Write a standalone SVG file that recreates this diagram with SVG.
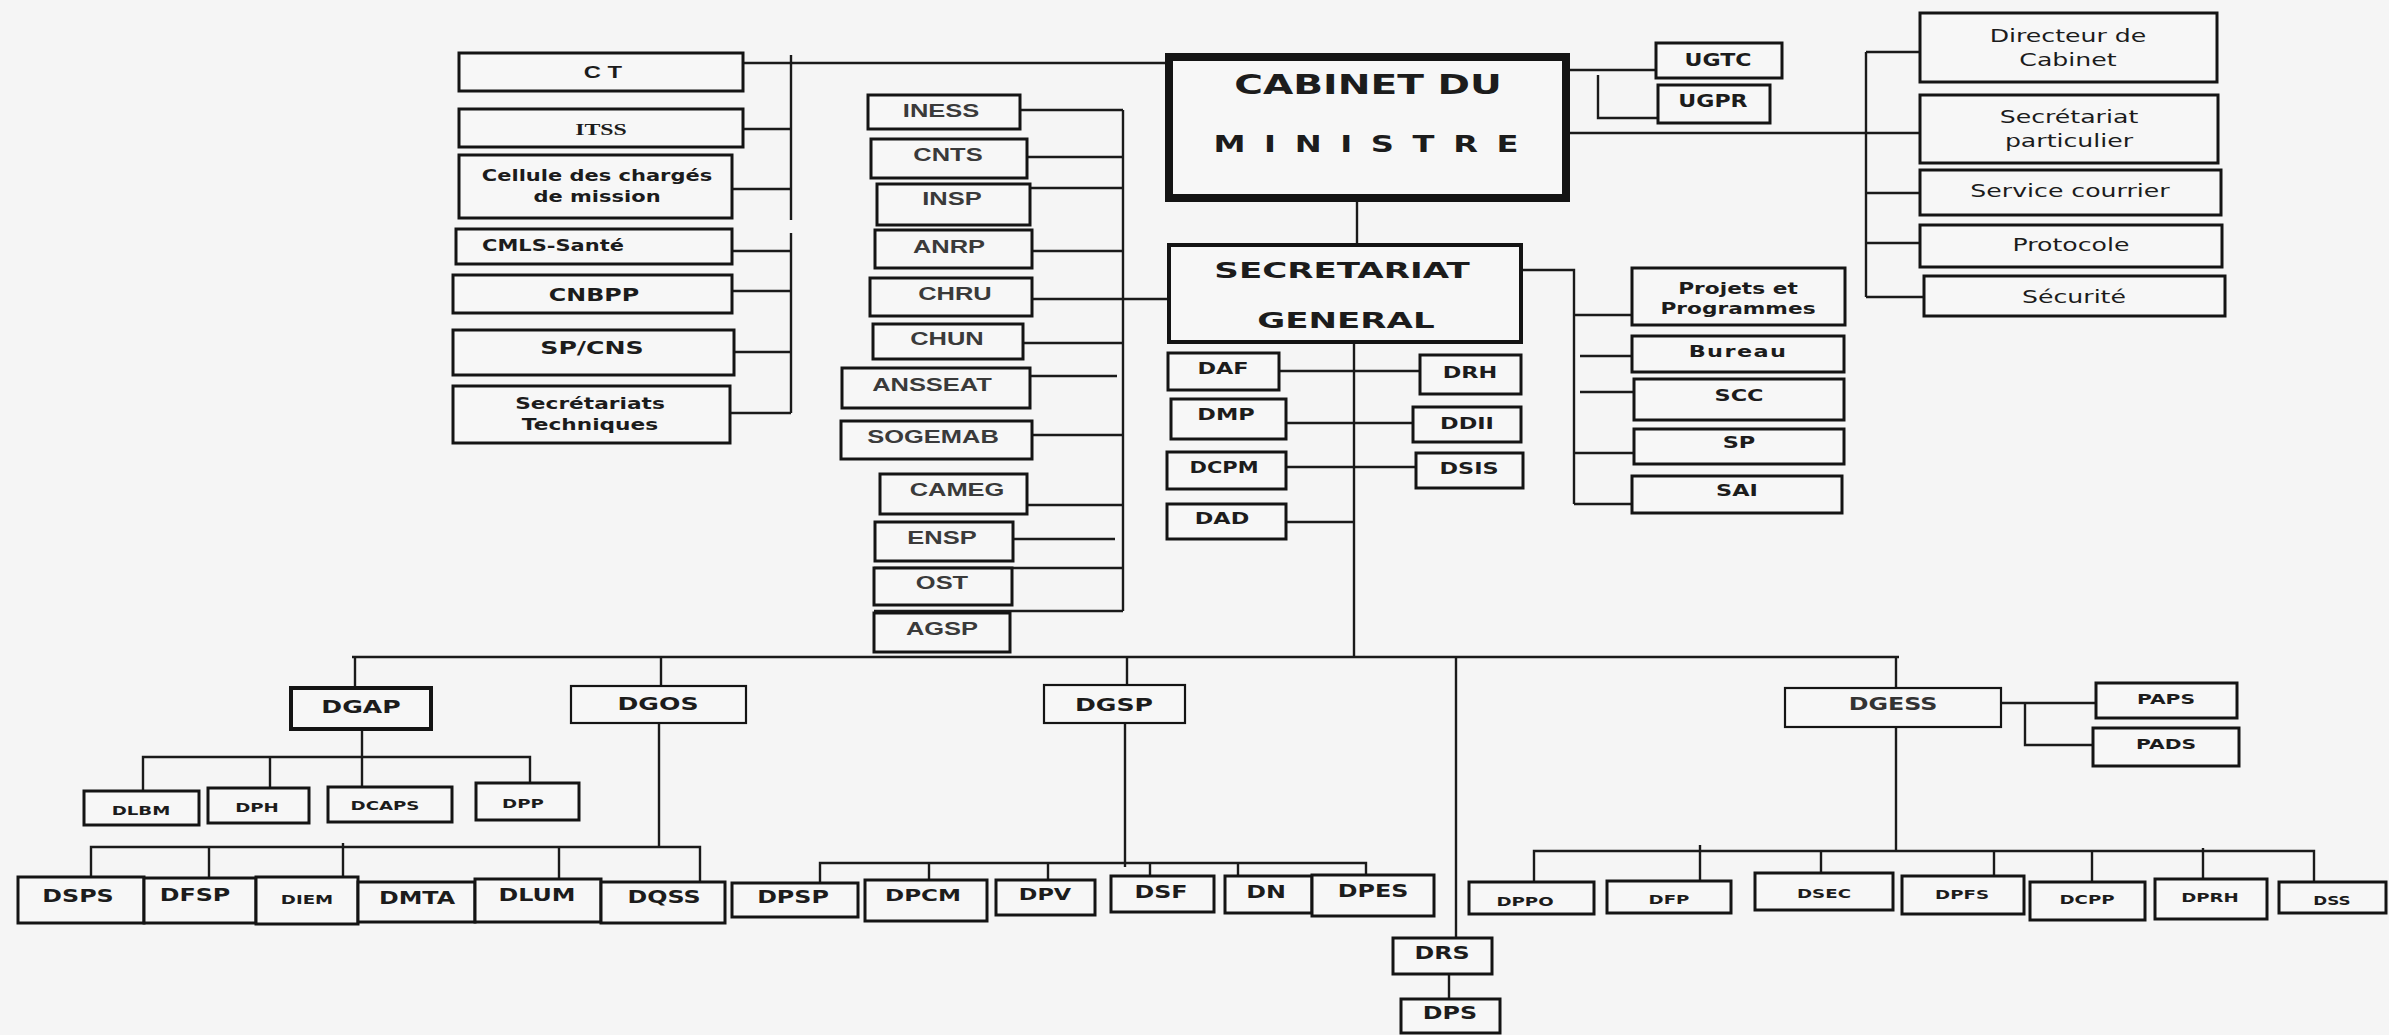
<svg xmlns="http://www.w3.org/2000/svg" width="2389" height="1035" viewBox="0 0 2389 1035">
<style>
rect{fill:#f7f7f7;stroke:#141414;stroke-width:3}
.t2 rect{stroke-width:2.2}
text{font-family:"DejaVu Sans",Verdana,sans-serif;font-weight:bold;text-anchor:middle;dominant-baseline:central;fill:#1c1c1c;font-size:17px}
.m text{font-family:"Liberation Sans",Arial,sans-serif;fill:#3a3a3a;font-size:19px}
.r text{font-weight:normal;font-size:18px}
.s text{font-size:13px}
#conn path{fill:none;stroke:#1a1a1a;stroke-width:2.4}
</style>
<rect x="0" y="0" width="2389" height="1035" style="fill:#f5f5f5;stroke:none"/>

<g id="conn">
<path d="M743,63 H1167"/>
<path d="M791,55 V220 M791,233 V413"/>
<path d="M743,129 H791 M732,189 H791 M732,251 H791 M732,291 H791 M734,352 H791 M730,413 H791"/>
<path d="M1123,110 V611"/>
<path d="M1020,110 H1123 M1027,157 H1123 M1030,188 H1123 M1032,251 H1123 M1032,299 H1168 M1023,343 H1123 M1030,376 H1117 M1032,435 H1123 M1027,505 H1123 M1013,539 H1115 M874,568 H1123 M874,611 H1123"/>
<path d="M1357,202 V243"/>
<path d="M1569,70 H1656 M1598,75 V118 H1658"/>
<path d="M1569,133 H1920"/>
<path d="M1866,52 V297 M1866,52 H1920 M1866,193 H1920 M1866,243 H1920 M1866,297 H1924"/>
<path d="M1521,270 H1574 V504 M1574,315 H1632 M1580,356 H1632 M1580,392 H1634 M1574,453 H1634 M1574,504 H1632"/>
<path d="M1354,343 V657"/>
<path d="M1279,371 H1420 M1286,423 H1413 M1286,467 H1416 M1286,522 H1354"/>
<path d="M352,657 H1899"/>
<path d="M355,657 V688 M661,657 V686 M1127,657 V685 M1896,657 V688"/>
<path d="M1456,657 V938 M1449,974 V999"/>
<path d="M362,729 V787 M143,791 V757 H530 V783 M270,757 V788"/>
<path d="M659,723 V847 M91,877 V847 H700 V882 M209,847 V878 M343,843 V877 M559,847 V879"/>
<path d="M1125,723 V867 M820,883 V863 H1366 V875 M929,863 V880 M1048,863 V880 M1150,863 V876 M1238,863 V876"/>
<path d="M1896,727 V851 M1534,882 V851 H2314 V882 M1700,845 V881 M1821,851 V873 M1994,851 V876 M2092,851 V882 M2203,848 V879"/>
<path d="M2001,703 H2096 M2025,703 V745 H2093"/>
</g>

<!-- Cabinet & SG -->
<g id="cabinet"><rect x="1169" y="57" width="397" height="141" style="stroke-width:8"/>
<text transform="matrix(1.45 0 0 1 1368 85)" style="font-size:27px">CABINET DU</text>
<text transform="matrix(1.4 0 0 1 1366 144)" style="font-size:23px" textLength="218" lengthAdjust="spacing">M I N I S T R E</text></g>
<g id="sg"><rect x="1169" y="245" width="352" height="97" style="stroke-width:4"/>
<text transform="matrix(1.55 0 0 1 1342 270)" style="font-size:22px">SECRETARIAT</text>
<text transform="matrix(1.55 0 0 1 1346 320)" style="font-size:22px">GENERAL</text></g>

<!-- left column -->
<g id="ct"><rect x="459" y="53" width="284" height="38"/><text transform="matrix(1.4 0 0 1 603 72)" style="font-family:'Liberation Sans',Arial,sans-serif;font-size:17px">C T</text></g>
<g id="itss"><rect x="459" y="109" width="284" height="38"/><text transform="matrix(1.4 0 0 1 601 129)" style="font-family:'Liberation Serif','Times New Roman',serif;font-size:17px">ITSS</text></g>
<g id="cellule"><rect x="459" y="155" width="273" height="63"/><text transform="matrix(1.4 0 0 1 597 0)" style="font-size:15px"><tspan x="0" y="175">Cellule des chargés</tspan><tspan x="0" y="196">de mission</tspan></text></g>
<g id="cmls"><rect x="456" y="229" width="276" height="35"/><text transform="matrix(1.4 0 0 1 553 246)" style="font-size:15px">CMLS-Santé</text></g>
<g id="cnbpp"><rect x="453" y="275" width="279" height="38"/><text transform="matrix(1.4 0 0 1 594 295)">CNBPP</text></g>
<g id="spcns"><rect x="453" y="330" width="281" height="45"/><text transform="matrix(1.4 0 0 1 592 348)" style="font-size:18px">SP/CNS</text></g>
<g id="sectech"><rect x="453" y="386" width="277" height="57"/><text transform="matrix(1.4 0 0 1 590 0)" style="font-size:15.5px"><tspan x="0" y="403">Secrétariats</tspan><tspan x="0" y="424">Techniques</tspan></text></g>

<!-- middle column -->
<g class="m">
<g id="iness"><rect x="868" y="95" width="152" height="34"/><text transform="matrix(1.34 0 0 1 941 111)">INESS</text></g>
<g id="cnts"><rect x="871" y="139" width="156" height="39"/><text transform="matrix(1.34 0 0 1 948 155)">CNTS</text></g>
<g id="insp"><rect x="877" y="184" width="153" height="41"/><text transform="matrix(1.34 0 0 1 952 199)">INSP</text></g>
<g id="anrp"><rect x="875" y="230" width="157" height="38"/><text transform="matrix(1.34 0 0 1 949 247)">ANRP</text></g>
<g id="chru"><rect x="870" y="278" width="162" height="38"/><text transform="matrix(1.34 0 0 1 955 294)">CHRU</text></g>
<g id="chun"><rect x="873" y="324" width="150" height="35"/><text transform="matrix(1.34 0 0 1 947 339)">CHUN</text></g>
<g id="ansseat"><rect x="842" y="368" width="188" height="40"/><text transform="matrix(1.34 0 0 1 932 385)">ANSSEAT</text></g>
<g id="sogemab"><rect x="841" y="421" width="191" height="38"/><text transform="matrix(1.34 0 0 1 933 437)">SOGEMAB</text></g>
<g id="cameg"><rect x="880" y="474" width="147" height="40"/><text transform="matrix(1.34 0 0 1 957 490)">CAMEG</text></g>
<g id="ensp"><rect x="875" y="522" width="138" height="39"/><text transform="matrix(1.34 0 0 1 942 538)">ENSP</text></g>
<g id="ost"><rect x="874" y="568" width="138" height="37"/><text transform="matrix(1.34 0 0 1 942 583)">OST</text></g>
<g id="agsp"><rect x="874" y="613" width="136" height="39"/><text transform="matrix(1.34 0 0 1 942 629)">AGSP</text></g>
</g>

<!-- right top -->
<g class="r">
<g id="ugtc"><rect x="1656" y="43" width="126" height="35"/><text transform="matrix(1.3 0 0 1 1718 60)" style="font-size:17px;font-weight:bold">UGTC</text></g>
<g id="ugpr"><rect x="1658" y="85" width="112" height="38"/><text transform="matrix(1.3 0 0 1 1713 101)" style="font-size:17px;font-weight:bold">UGPR</text></g>
<g id="dircab"><rect x="1920" y="13" width="297" height="69"/><text transform="matrix(1.4 0 0 1 2068 0)"><tspan x="0" y="35">Directeur de</tspan><tspan x="0" y="59">Cabinet</tspan></text></g>
<g id="secpart"><rect x="1920" y="95" width="298" height="68"/><text transform="matrix(1.4 0 0 1 2069 0)"><tspan x="0" y="116">Secrétariat</tspan><tspan x="0" y="140">particulier</tspan></text></g>
<g id="courrier"><rect x="1920" y="170" width="301" height="45"/><text transform="matrix(1.4 0 0 1 2070 191)">Service courrier</text></g>
<g id="protocole"><rect x="1920" y="225" width="302" height="42"/><text transform="matrix(1.4 0 0 1 2071 245)">Protocole</text></g>
<g id="securite"><rect x="1924" y="276" width="301" height="40"/><text transform="matrix(1.4 0 0 1 2074 297)">Sécurité</text></g>
</g>

<!-- SG right -->
<g id="projets"><rect x="1632" y="268" width="213" height="57"/><text transform="matrix(1.4 0 0 1 1738 0)" style="font-size:15.5px"><tspan x="0" y="288">Projets et</tspan><tspan x="0" y="308">Programmes</tspan></text></g>
<g id="bureau"><rect x="1632" y="336" width="212" height="36"/><text transform="matrix(1.4 0 0 1 1738 352)" style="font-size:16px;letter-spacing:1px">Bureau</text></g>
<g id="scc"><rect x="1634" y="379" width="210" height="41"/><text transform="matrix(1.4 0 0 1 1739 396)" style="font-size:16px">SCC</text></g>
<g id="sp"><rect x="1634" y="429" width="210" height="35"/><text transform="matrix(1.4 0 0 1 1739 443)" style="font-size:16px">SP</text></g>
<g id="sai"><rect x="1632" y="476" width="210" height="37"/><text transform="matrix(1.4 0 0 1 1737 491)" style="font-size:16px">SAI</text></g>

<!-- SG directorates -->
<g id="daf"><rect x="1168" y="353" width="111" height="37"/><text transform="matrix(1.4 0 0 1 1223 369)" style="font-size:16px">DAF</text></g>
<g id="drh"><rect x="1420" y="355" width="101" height="39"/><text transform="matrix(1.4 0 0 1 1470 373)" style="font-size:16px">DRH</text></g>
<g id="dmp"><rect x="1171" y="399" width="115" height="40"/><text transform="matrix(1.4 0 0 1 1226 415)" style="font-size:16px">DMP</text></g>
<g id="ddii"><rect x="1413" y="407" width="108" height="35"/><text transform="matrix(1.4 0 0 1 1467 424)" style="font-size:16px">DDII</text></g>
<g id="dcpm"><rect x="1167" y="452" width="119" height="37"/><text transform="matrix(1.4 0 0 1 1224 468)" style="font-size:15px">DCPM</text></g>
<g id="dsis"><rect x="1416" y="453" width="107" height="35"/><text transform="matrix(1.4 0 0 1 1469 469)" style="font-size:16px">DSIS</text></g>
<g id="dad"><rect x="1167" y="504" width="119" height="35"/><text transform="matrix(1.4 0 0 1 1222 519)" style="font-size:16px">DAD</text></g>

<!-- general directorates -->
<g id="dgap"><rect x="291" y="688" width="140" height="41" style="stroke-width:4"/><text transform="matrix(1.4 0 0 1 361 707)" style="font-size:18px">DGAP</text></g>
<g class="t2">
<g id="dgos"><rect x="571" y="686" width="175" height="37"/><text transform="matrix(1.4 0 0 1 658 704)" style="font-size:18px">DGOS</text></g>
<g id="dgsp"><rect x="1044" y="685" width="141" height="38"/><text transform="matrix(1.4 0 0 1 1114 705)" style="font-size:18px">DGSP</text></g>
<g id="dgess"><rect x="1785" y="688" width="216" height="39"/><text transform="matrix(1.4 0 0 1 1893 704)" style="font-size:17px;fill:#333">DGESS</text></g>
</g>
<g id="paps"><rect x="2096" y="683" width="141" height="35"/><text transform="matrix(1.4 0 0 1 2166 699)" style="font-size:14.5px">PAPS</text></g>
<g id="pads"><rect x="2093" y="728" width="146" height="38"/><text transform="matrix(1.4 0 0 1 2166 744)" style="font-size:14.5px">PADS</text></g>

<!-- DGAP children -->
<g class="s">
<g id="dlbm"><rect x="84" y="791" width="115" height="34"/><text transform="matrix(1.4 0 0 1 141 810)">DLBM</text></g>
<g id="dph"><rect x="208" y="788" width="101" height="35"/><text transform="matrix(1.4 0 0 1 257 807)">DPH</text></g>
<g id="dcaps"><rect x="328" y="787" width="124" height="35"/><text transform="matrix(1.4 0 0 1 385 805)">DCAPS</text></g>
<g id="dpp"><rect x="476" y="783" width="103" height="37"/><text transform="matrix(1.4 0 0 1 523 803)">DPP</text></g>
</g>

<!-- DGOS children -->
<g id="dsps"><rect x="18" y="877" width="126" height="46"/><text transform="matrix(1.4 0 0 1 78 896)">DSPS</text></g>
<g id="dfsp"><rect x="144" y="878" width="112" height="45"/><text transform="matrix(1.4 0 0 1 195 895)">DFSP</text></g>
<g id="diem" class="s"><rect x="256" y="877" width="102" height="47"/><text transform="matrix(1.4 0 0 1 307 899)">DIEM</text></g>
<g id="dmta"><rect x="358" y="882" width="117" height="40"/><text transform="matrix(1.4 0 0 1 417 898)">DMTA</text></g>
<g id="dlum"><rect x="475" y="879" width="126" height="43"/><text transform="matrix(1.4 0 0 1 537 895)">DLUM</text></g>
<g id="dqss"><rect x="601" y="882" width="124" height="41"/><text transform="matrix(1.4 0 0 1 664 897)">DQSS</text></g>

<!-- DGSP children -->
<g id="dpsp"><rect x="732" y="883" width="126" height="34"/><text transform="matrix(1.4 0 0 1 793 897)">DPSP</text></g>
<g id="dpcm"><rect x="865" y="880" width="122" height="41"/><text transform="matrix(1.4 0 0 1 923 895)" style="font-size:16.5px">DPCM</text></g>
<g id="dpv"><rect x="996" y="880" width="99" height="35"/><text transform="matrix(1.4 0 0 1 1045 895)" style="font-size:16px">DPV</text></g>
<g id="dsf"><rect x="1111" y="876" width="103" height="36"/><text transform="matrix(1.4 0 0 1 1161 892)">DSF</text></g>
<g id="dn"><rect x="1225" y="876" width="87" height="37"/><text transform="matrix(1.4 0 0 1 1266 892)">DN</text></g>
<g id="dpes"><rect x="1312" y="875" width="122" height="41"/><text transform="matrix(1.4 0 0 1 1373 891)">DPES</text></g>
<g id="drs"><rect x="1393" y="938" width="99" height="36"/><text transform="matrix(1.4 0 0 1 1442 953)">DRS</text></g>
<g id="dps"><rect x="1401" y="999" width="99" height="34"/><text transform="matrix(1.4 0 0 1 1450 1013)">DPS</text></g>

<!-- DGESS children -->
<g class="s">
<g id="dppo"><rect x="1469" y="882" width="125" height="32"/><text transform="matrix(1.4 0 0 1 1525 901)">DPPO</text></g>
<g id="dfp"><rect x="1607" y="881" width="124" height="32"/><text transform="matrix(1.4 0 0 1 1669 899)">DFP</text></g>
<g id="dsec"><rect x="1755" y="873" width="138" height="37"/><text transform="matrix(1.4 0 0 1 1824 893)">DSEC</text></g>
<g id="dpfs"><rect x="1902" y="876" width="122" height="38"/><text transform="matrix(1.4 0 0 1 1962 894)">DPFS</text></g>
<g id="dcpp"><rect x="2030" y="882" width="115" height="38"/><text transform="matrix(1.4 0 0 1 2087 899)">DCPP</text></g>
<g id="dprh"><rect x="2155" y="879" width="112" height="40"/><text transform="matrix(1.4 0 0 1 2210 897)">DPRH</text></g>
<g id="dss"><rect x="2279" y="882" width="107" height="31"/><text transform="matrix(1.4 0 0 1 2332 900)" style="font-size:12px">DSS</text></g>
</g>
</svg>
